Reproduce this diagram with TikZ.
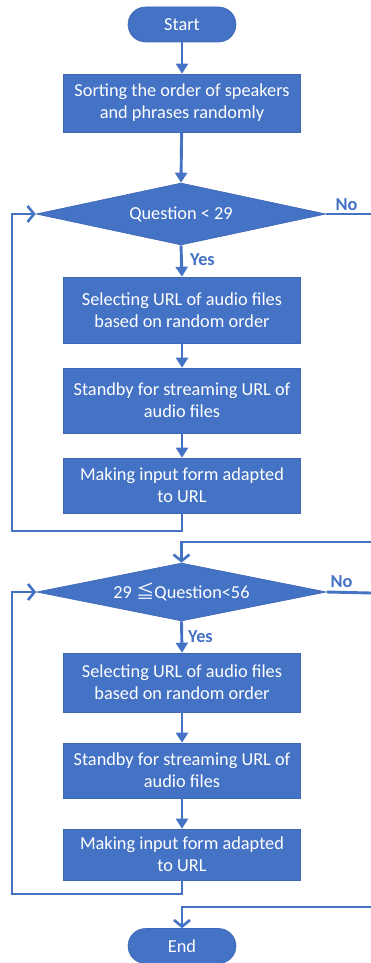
\documentclass[tikz,border=0pt]{standalone}
\usepackage{fontspec}
\setmainfont{Carlito}
\newfontfamily\jpfont{Noto Sans CJK JP}
\usetikzlibrary{arrows.meta,shapes.geometric}
\definecolor{obl}{HTML}{4472C4}
\definecolor{obd}{HTML}{3E68B4}
\begin{document}
\begin{tikzpicture}[x=1pt,y=1pt,
  base/.style={fill=obl,draw=obd,line width=0.6pt,text=white,inner sep=0pt,
    font=\fontsize{18.3}{22}\selectfont,align=center},
  procbox/.style={base,rectangle,minimum width=237pt},
  term/.style={base,rectangle,rounded corners=17.5pt,minimum width=108pt,minimum height=35pt},
  decis/.style={base,diamond,aspect=4.7,minimum width=290pt},
  conn/.style={draw=obl,line width=2.9pt},
  filled/.style={conn,-{Triangle[length=10pt,width=12pt]}},
  openarr/.style={conn,-{Straight Barb[length=6.5pt,width=16pt,line width=2.6pt]}},
  lbl/.style={text=obl,font=\fontsize{18.3}{22}\selectfont\bfseries,inner sep=0pt}
]
\useasboundingbox (0,0) rectangle (370,-963);
\fill[white] (0,0) rectangle (370,-963);

\node[term] (start) at (182,-24.5) {Start};
\node[procbox,minimum height=58pt] (b1) at (182,-103) {Sorting the order of speakers\\and phrases randomly};
\node[decis,minimum height=62pt] (d1) at (181,-214) {Question < 29};
\node[procbox,minimum height=66pt] (b2) at (182,-310) {Selecting URL of audio files\\based on random order};
\node[procbox,minimum height=65pt] (b3) at (182,-400.5) {Standby for streaming URL of\\audio files};
\node[procbox,minimum height=55pt] (b4) at (182,-485.5) {Making input form adapted\\to URL};

\node[decis,minimum height=58pt] (d2) at (181.5,-592) {29 {\jpfont ≦}Question<56};
\node[procbox,minimum height=59pt] (b5) at (182,-682.5) {Selecting URL of audio files\\based on random order};
\node[procbox,minimum height=55pt] (b6) at (182,-770.5) {Standby for streaming URL of\\audio files};
\node[procbox,minimum height=51pt] (b7) at (182,-854.5) {Making input form adapted\\to URL};
\node[term] (end) at (182,-946) {End};

\coordinate (l1) at (12,-531);
\coordinate (l2) at (12,-894);
\coordinate (r1) at (371,-214);
\coordinate (r2) at (371,-542);
\coordinate (r3) at (371,-593);
\coordinate (r4) at (371,-907);

\draw[filled] (start) -- (b1);
\draw[filled] (b1) -- (d1.north);
\draw[filled] (d1.south) -- (b2.north);
\draw[filled] (b2) -- (b3);
\draw[filled] (b3) -- (b4);
\draw[openarr] (b4.south) |- (l1) |- (d1.west);
\draw[conn] (d1.east) -- (r1);
\node[lbl] (no1) at (346.5,-205) {No};
\node[lbl] (yes1) at (202.5,-260) {Yes};

\draw[openarr] (r2) -| (d2.north);
\draw[filled] (d2.south) -- (b5.north);
\draw[filled] (b5) -- (b6);
\draw[filled] (b6) -- (b7);
\draw[openarr] (b7.south) |- (l2) |- (d2.west);
\draw[conn] (d2.east) -- (r3);
\node[lbl] (no2) at (341.5,-582) {No};
\node[lbl] (yes2) at (200.5,-637) {Yes};

\draw[openarr] (r4) -| (end.north);
\end{tikzpicture}
\end{document}
